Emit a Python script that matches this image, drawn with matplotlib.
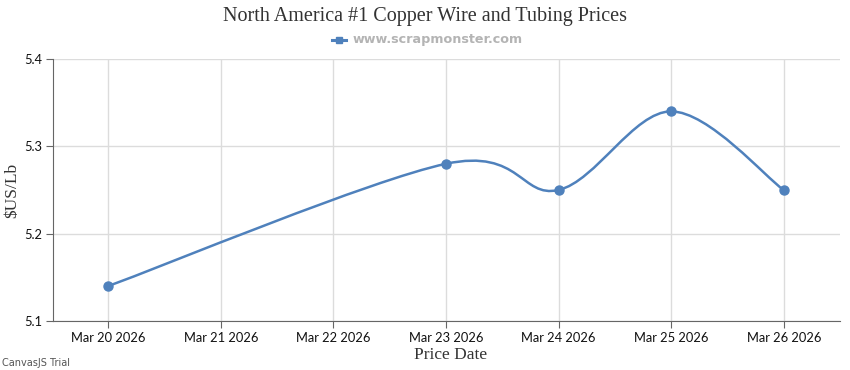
import matplotlib
matplotlib.use("Agg")
import matplotlib.pyplot as plt
from matplotlib.path import Path
from matplotlib.patches import PathPatch
from matplotlib.lines import Line2D
import numpy as np

tick_labels = ["Mar 20 2026", "Mar 21 2026", "Mar 22 2026", "Mar 23 2026",
               "Mar 24 2026", "Mar 25 2026", "Mar 26 2026"]
point_days = [0, 3, 4, 5, 6]
prices = [5.14, 5.28, 5.25, 5.34, 5.25]
y_ticks = [5.1, 5.2, 5.3, 5.4]

title = "North America #1 Copper Wire and Tubing Prices"
legend_label = "www.scrapmonster.com"
color = "#4F81BC"

fig = plt.figure(figsize=(8.5, 3.7), dpi=100)
W, H = 850, 370
ax = fig.add_axes([53 / W, 1 - 321 / H, (840 - 53) / W, (321 - 59) / H])

ax.set_xlim(-0.49, 6.5)
ax.set_ylim(5.1, 5.4)

# spline (cardinal, like CanvasJS) through the data points
pts = np.column_stack([point_days, prices]).astype(float)
n = len(pts)
verts = [tuple(pts[0])]
codes = [Path.MOVETO]
for i in range(1, n):
    a = i - 1
    i1 = 0 if a == 0 else a - 1
    i2 = a if a == n - 1 else a + 1
    d1 = (pts[i2] - pts[i1]) / 2.0
    cp1 = pts[a] + d1 / 3.0
    b = i
    j1 = 0 if b == 0 else b - 1
    j2 = b if b == n - 1 else b + 1
    d2 = (pts[j2] - pts[j1]) / 2.0
    cp2 = pts[b] - d2 / 3.0
    verts += [tuple(cp1), tuple(cp2), tuple(pts[b])]
    codes += [Path.CURVE4] * 3
patch = PathPatch(Path(verts, codes), facecolor="none", edgecolor=color, lw=1.8, zorder=3)
ax.add_patch(patch)
ax.plot(point_days, prices, "o", color=color, ms=6.5, zorder=4, clip_on=False)

ax.set_xticks(range(len(tick_labels)))
ax.set_xticklabels(tick_labels)
ax.set_yticks(y_ticks)
ax.set_yticklabels([f"{v:.1f}" for v in y_ticks])
ax.grid(True, color="#dcdcdc", lw=1)
ax.set_axisbelow(True)
for s in ["top", "right"]:
    ax.spines[s].set_visible(False)
ax.spines["left"].set_color("#666666")
ax.spines["bottom"].set_color("#666666")
ax.tick_params(axis="both", length=5, color="#666666", labelsize=9.3,
               labelcolor="#111111", pad=3)
for lab in ax.get_xticklabels() + ax.get_yticklabels():
    lab.set_family("Lato")

fig.text(451 / W, 1 - 355 / H, "Price Date", ha="center", va="center",
         family="Liberation Serif", fontsize=12.5, color="#333333")
fig.text(12 / W, 1 - 190 / H, "$US/Lb", ha="center", va="center", rotation=90,
         family="Liberation Serif", fontsize=12.5, color="#333333")

fig.text(425 / W, 1 - 16 / H, title, ha="center", va="center",
         family="Liberation Serif", fontsize=14.5, color="#333333")

# legend
lx, ly = 339 / W, 1 - 40 / H
fig.add_artist(Line2D([332 / W, 346 / W], [ly, ly], color=color, lw=2.2))
fig.add_artist(Line2D([lx], [ly], marker="s", color=color, ms=5))
fig.text(353 / W, ly, legend_label, ha="left", va="center", family="DejaVu Sans",
         fontsize=9.2, fontweight="bold", color="#b4b4b4")

fig.text(2 / W, 1 - 363 / H, "CanvasJS Trial", ha="left", va="center",
         family="DejaVu Sans", fontsize=7, color="#555555")

fig.savefig("out.png", dpi=100)
